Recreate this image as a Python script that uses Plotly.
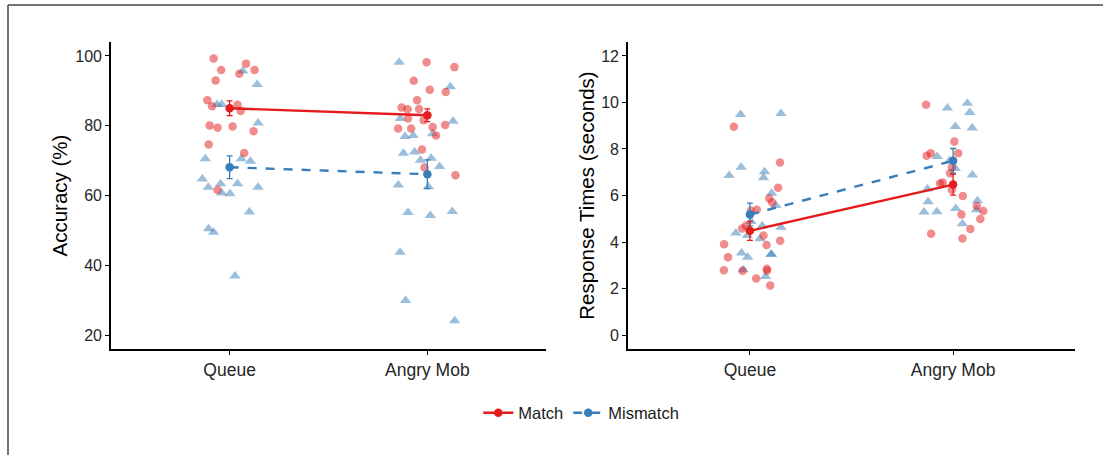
import plotly.graph_objects as go

# ---------------- data ----------------
conditions = ["Queue", "Angry Mob"]
groups = ["Match", "Mismatch"]

# Accuracy (%) individual points and their horizontal jitter (category units)
acc_queue_match = [99.3, 96.0, 97.8, 96.0, 94.9, 93.0, 87.3, 85.6, 86.0, 84.2, 80.1, 79.4, 79.8, 78.4, 74.6, 72.2, 61.6]
acc_queue_match_jit = [-0.081, -0.043, 0.083, 0.126, 0.049, -0.071, -0.113, -0.089, 0.040, 0.056, -0.101, -0.061, 0.015, 0.121, -0.106, 0.074, -0.061]
acc_queue_mis = [95.7, 91.8, 86.1, 86.1, 80.8, 70.5, 70.5, 69.8, 64.7, 62.4, 63.4, 63.4, 62.4, 60.7, 60.5, 55.3, 50.5, 49.5, 36.9]
acc_queue_mis_jit = [0.066, 0.139, -0.064, -0.040, 0.144, -0.123, 0.059, 0.105, -0.138, -0.108, -0.046, 0.040, 0.144, -0.040, 0.002, 0.100, -0.106, -0.081, 0.027]
acc_mob_match = [98.2, 96.8, 92.9, 90.3, 89.7, 87.3, 85.2, 84.7, 84.8, 82.1, 81.6, 79.2, 79.2, 79.6, 80.2, 77.2, 73.2, 68.0, 65.8]
acc_mob_match_jit = [-0.004, 0.137, -0.069, 0.012, 0.093, -0.052, -0.130, -0.100, -0.042, -0.098, -0.019, -0.148, -0.082, 0.027, 0.090, 0.044, -0.027, -0.014, 0.142]
acc_mob_mis = [98.2, 91.2, 82.1, 81.3, 76.9, 77.2, 77.7, 72.1, 72.5, 70.1, 70.7, 68.3, 63.0, 62.5, 55.1, 54.3, 55.4, 43.7, 29.9, 24.1]
acc_mob_mis_jit = [-0.143, 0.116, -0.137, 0.130, -0.113, -0.072, 0.027, -0.121, -0.064, -0.035, 0.019, 0.062, -0.147, 0.005, -0.098, 0.015, 0.126, -0.138, -0.110, 0.138]

acc_mean_match = [85.0, 83.0]
acc_se_match = [2.1, 1.85]
acc_mean_mis = [68.1, 66.1]
acc_se_mis = [3.25, 4.1]

# Response times (seconds)
rt_queue_match = [8.96, 7.42, 6.33, 5.87, 5.70, 5.34, 5.39, 4.70, 4.58, 4.28, 4.05, 3.90, 3.87, 3.35, 2.79, 2.76, 2.85, 2.76, 2.43, 2.13]
rt_queue_match_jit = [-0.079, 0.148, 0.139, 0.095, 0.110, 0.005, 0.034, -0.020, -0.038, 0.067, 0.149, -0.127, 0.082, -0.108, -0.128, -0.036, 0.084, 0.084, 0.031, 0.100]
rt_queue_mis = [9.48, 9.53, 6.86, 7.21, 7.02, 6.76, 6.10, 5.57, 4.88, 4.39, 4.28, 4.70, 4.14, 4.64, 3.53, 3.35, 3.47, 3.47, 2.81, 2.52]
rt_queue_mis_jit = [-0.046, 0.153, -0.102, -0.043, 0.072, 0.067, 0.107, 0.128, 0.006, -0.069, -0.013, 0.061, 0.049, 0.153, -0.041, -0.011, 0.105, 0.105, -0.033, 0.077]
rt_mob_match = [9.90, 8.32, 7.82, 7.71, 7.82, 7.22, 6.96, 6.52, 6.56, 6.25, 5.98, 5.55, 5.33, 5.18, 4.99, 4.56, 4.36, 4.15]
rt_mob_match_jit = [-0.133, 0.006, 0.025, -0.130, -0.110, -0.006, -0.015, -0.064, -0.051, -0.006, 0.048, 0.117, 0.149, 0.041, 0.134, 0.085, -0.108, 0.046]
rt_mob_mis = [9.76, 9.97, 9.57, 8.97, 8.90, 7.68, 7.49, 7.16, 6.88, 6.28, 5.73, 5.29, 5.30, 5.44, 5.77, 5.39, 4.79]
rt_mob_mis_jit = [-0.028, 0.070, 0.082, 0.011, 0.094, -0.079, -0.018, 0.011, 0.095, -0.126, -0.123, -0.143, -0.080, 0.013, 0.120, 0.115, 0.046]

rt_mean_match = [4.48, 6.47]
rt_se_match = [0.41, 0.45]
rt_mean_mis = [5.18, 7.49]
rt_se_mis = [0.49, 0.53]

y_ticks_acc = [20, 40, 60, 80, 100]
y_ticks_rt = [0, 2, 4, 6, 8, 10, 12]

# ---------------- styling ----------------
RED = "#E41A1C"
BLUE = "#377EB8"
FONT = "Liberation Sans, Arial, sans-serif"
cat_pos = [1, 2]

fig = go.Figure()


def jitter_trace(cat_index, jit, vals, color, symbol, xa, ya):
    return go.Scatter(
        x=[cat_pos[cat_index] + j for j in jit], y=vals, mode="markers",
        marker=dict(color=color, symbol=symbol, size=10 if symbol == "triangle-up" else 8.5,
                    opacity=0.5, line=dict(width=0)),
        xaxis=xa, yaxis=ya, showlegend=False, hoverinfo="y")


panels = [
    ("x", "y", [(0, acc_queue_match_jit, acc_queue_match, acc_queue_mis_jit, acc_queue_mis),
                (1, acc_mob_match_jit, acc_mob_match, acc_mob_mis_jit, acc_mob_mis)],
     acc_mean_match, acc_se_match, acc_mean_mis, acc_se_mis, True),
    ("x2", "y2", [(0, rt_queue_match_jit, rt_queue_match, rt_queue_mis_jit, rt_queue_mis),
                  (1, rt_mob_match_jit, rt_mob_match, rt_mob_mis_jit, rt_mob_mis)],
     rt_mean_match, rt_se_match, rt_mean_mis, rt_se_mis, False),
]

for xa, ya, pts, m_match, se_match, m_mis, se_mis, legend in panels:
    for ci, jm, vm, jx, vx in pts:
        fig.add_trace(jitter_trace(ci, jx, vx, BLUE, "triangle-up", xa, ya))
        fig.add_trace(jitter_trace(ci, jm, vm, RED, "circle", xa, ya))
    fig.add_trace(go.Scatter(
        x=cat_pos, y=m_mis, mode="lines+markers", name=groups[1],
        line=dict(color=BLUE, width=2.4, dash="dash"),
        marker=dict(color=BLUE, size=8.5),
        error_y=dict(type="data", array=se_mis, visible=True, color=BLUE, thickness=1.3, width=3),
        xaxis=xa, yaxis=ya, showlegend=legend, legendrank=2))
    fig.add_trace(go.Scatter(
        x=cat_pos, y=m_match, mode="lines+markers", name=groups[0],
        line=dict(color=RED, width=2.4),
        marker=dict(color=RED, size=8.5),
        error_y=dict(type="data", array=se_match, visible=True, color=RED, thickness=1.3, width=3),
        xaxis=xa, yaxis=ya, showlegend=legend, legendrank=1))

axis_common = dict(showline=True, linecolor="black", linewidth=1.6, ticks="outside",
                   ticklen=4, tickcolor="black", tickwidth=1, showgrid=False, zeroline=False)
ytick_font = dict(family=FONT, size=16, color="#262626")
xtick_font = dict(family=FONT, size=17.5, color="#262626")
title_font = dict(family=FONT, size=20.5, color="black")

W, H = 1103, 455
ML, MR, MT, MB = 111, 28, 42, 106
pw = W - ML - MR
ph = H - MT - MB

fig.update_layout(
    width=W, height=H,
    margin=dict(l=ML, r=MR, t=MT, b=MB),
    plot_bgcolor="white", paper_bgcolor="white",
    font=dict(family=FONT, size=16, color="black"),
    xaxis=dict(domain=[0, (546 - ML) / pw], range=[0.4, 2.6], tickvals=cat_pos, ticktext=conditions,
               anchor="y", tickfont=xtick_font, **axis_common),
    yaxis=dict(range=[16, 104], tickvals=y_ticks_acc, anchor="x", tickfont=ytick_font,
               title=dict(text="Accuracy (%)", font=title_font, standoff=2),
               **axis_common),
    xaxis2=dict(domain=[(628 - ML) / pw, 1], range=[0.4, 2.6], tickvals=cat_pos, ticktext=conditions,
                anchor="y2", tickfont=xtick_font, **axis_common),
    yaxis2=dict(range=[-0.6, 12.6], tickvals=y_ticks_rt, anchor="x2", tickfont=ytick_font,
                title=dict(text="Response Times (seconds)", font=title_font, standoff=1),
                **axis_common),
    legend=dict(orientation="h", xref="container", yref="container", x=0.527, y=1 - 413 / H,
                xanchor="center", yanchor="middle", itemwidth=30,
                font=dict(family=FONT, size=16.5, color="#1a1a1a"), traceorder="normal"),
    shapes=[
        dict(type="line", xref="paper", yref="paper",
             x0=(8 - ML) / pw, x1=(W + 5 - ML) / pw, y0=(H - MB - 5) / ph, y1=(H - MB - 5) / ph,
             line=dict(color="#444444", width=1.5), layer="above"),
        dict(type="line", xref="paper", yref="paper",
             x0=(8 - ML) / pw, x1=(8 - ML) / pw, y0=(H - MB - 5) / ph, y1=-MB / ph - 0.1,
             line=dict(color="#444444", width=1.5), layer="above"),
    ],
)

fig.write_html("out.html", config={"displayModeBar": False},
               post_script="document.body.style.margin='0px';document.body.style.overflow='hidden';")
